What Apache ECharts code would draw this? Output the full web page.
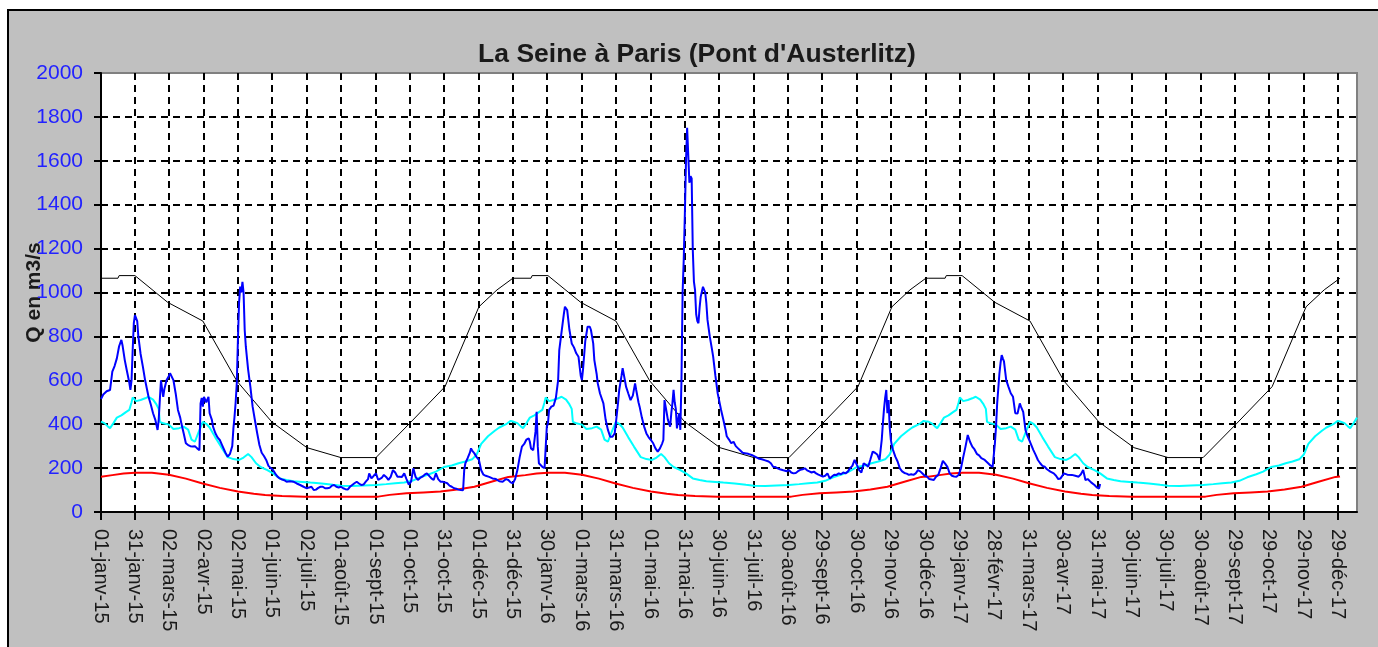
<!DOCTYPE html>
<html><head><meta charset="utf-8">
<script src="https://cdn.jsdelivr.net/npm/echarts@6/dist/echarts.min.js"></script>
<style>html,body{margin:0;padding:0;background:#fff}#c{width:1378px;height:647px}</style>
</head><body><div id="c"></div>
<script>
// ---------- DATA ----------
const startYear = 2015;           // categories start on 01-janv-15, one per day
const dayCount = 1111;            // 01-janv-15 .. 15-janv-18
const monthNames = ['janv','févr','mars','avr','mai','juin','juil','août','sept','oct','nov','déc'];
const tickLabels = ['01-janv-15','31-janv-15','02-mars-15','02-avr-15','02-mai-15','01-juin-15','02-juil-15','01-août-15','01-sept-15','01-oct-15','31-oct-15','01-déc-15','31-déc-15','30-janv-16','01-mars-16','31-mars-16','01-mai-16','31-mai-16','30-juin-16','31-juil-16','30-août-16','29-sept-16','30-oct-16','29-nov-16','30-déc-16','29-janv-17','28-févr-17','31-mars-17','30-avr-17','31-mai-17','30-juin-17','30-juil-17','30-août-17','29-sept-17','29-oct-17','29-nov-17','29-déc-17'];
const yMin = 0, yMax = 2000, yStep = 200;

// observed daily discharge [day index, Q m3/s]
const observed = [[0,515],[2,535],[5,550],[8,556],[10,640],[12,665],[14,700],[16,755],[18,784],[19,760],[21,692],[23,640],[25,590],[26,556],[27,600],[28,738],[29,860],[30,897],[31,905],[32,870],[33,800],[35,720],[37,662],[39,600],[42,525],[44,490],[46,450],[48,420],[50,374],[51,420],[52,512],[53,600],[54,560],[55,525],[56,560],[58,601],[60,620],[61,632],[62,625],[64,601],[66,540],[68,465],[70,430],[71,404],[73,360],[75,313],[77,305],[79,300],[81,298],[83,300],[85,290],[87,282],[88,495],[89,520],[90,480],[91,525],[93,500],[95,525],[96,450],[98,420],[99,389],[101,360],[103,340],[105,328],[107,305],[108,298],[110,270],[112,252],[114,265],[115,267],[116,300],[117,380],[118,434],[119,500],[120,586],[121,784],[122,951],[123,1027],[124,1000],[125,1049],[126,1000],[127,829],[128,753],[130,650],[132,571],[134,480],[136,419],[138,360],[140,305],[142,270],[144,255],[146,237],[148,210],[150,200],[152,191],[154,175],[156,161],[158,153],[160,148],[162,145],[164,138],[167,140],[170,138],[173,130],[176,123],[179,115],[182,108],[184,112],[186,115],[188,100],[190,102],[192,110],[194,115],[196,115],[198,108],[200,108],[202,110],[204,120],[206,123],[208,115],[210,112],[212,115],[214,108],[216,104],[218,102],[220,115],[222,123],[224,131],[226,138],[228,130],[230,123],[232,125],[234,138],[236,150],[237,176],[238,165],[239,153],[241,165],[242,169],[243,176],[245,146],[246,138],[248,155],[250,169],[252,160],[254,146],[256,160],[258,191],[260,180],[262,161],[264,161],[266,160],[268,176],[270,150],[272,125],[274,138],[276,199],[278,160],[280,146],[282,155],[284,161],[286,170],[288,176],[290,165],[292,153],[294,146],[296,176],[298,150],[300,138],[302,138],[304,135],[306,131],[308,120],[310,115],[312,108],[314,106],[316,102],[318,100],[320,99],[321,191],[322,222],[324,245],[326,270],[327,290],[328,280],[330,267],[332,250],[334,237],[336,190],[338,170],[340,165],[343,160],[346,153],[349,150],[352,140],[355,138],[358,150],[360,146],[362,135],[364,131],[366,150],[368,191],[370,250],[372,298],[374,310],[376,330],[378,336],[379,320],[380,290],[382,282],[384,366],[385,457],[386,300],[387,222],[388,214],[390,206],[392,200],[393,199],[394,389],[395,404],[396,465],[398,480],[400,485],[401,480],[402,520],[404,601],[405,738],[407,820],[409,900],[410,935],[411,935],[412,920],[414,829],[416,768],[418,750],[420,723],[422,707],[424,620],[425,601],[426,650],[428,780],[430,844],[432,844],[433,829],[435,768],[436,692],[438,630],[439,586],[441,540],[444,495],[446,420],[448,374],[450,343],[452,343],[454,358],[455,404],[457,500],[458,556],[460,620],[461,655],[463,600],[464,571],[466,540],[468,510],[470,530],[472,586],[473,556],[475,500],[476,480],[478,430],[480,389],[482,358],[484,340],[486,328],[488,313],[490,290],[492,275],[494,290],[496,313],[497,328],[498,510],[499,480],[500,450],[501,420],[502,404],[503,389],[504,450],[505,495],[506,556],[507,500],[508,470],[509,381],[510,420],[511,450],[512,374],[513,600],[514,1000],[515,1150],[516,1360],[517,1600],[518,1750],[519,1750],[520,1500],[521,1530],[522,1520],[523,1194],[524,1050],[525,1011],[526,900],[527,870],[528,860],[529,930],[530,981],[532,1026],[534,1000],[535,950],[536,875],[538,800],[540,740],[541,708],[543,620],[545,541],[547,490],[548,465],[550,420],[552,374],[553,345],[555,330],[557,313],[559,320],[561,300],[563,290],[565,280],[567,270],[569,268],[572,265],[575,260],[578,252],[581,244],[584,240],[587,235],[590,230],[592,222],[594,206],[596,205],[598,199],[600,195],[603,190],[606,186],[608,191],[610,180],[612,176],[614,178],[616,186],[618,192],[620,195],[622,199],[624,190],[626,185],[628,180],[630,184],[632,176],[634,170],[636,166],[638,161],[640,165],[642,176],[644,153],[646,162],[648,170],[650,169],[652,176],[654,172],[656,180],[658,176],[660,184],[662,200],[664,210],[666,237],[668,215],[670,191],[672,180],[674,222],[676,215],[678,206],[680,240],[682,275],[684,270],[686,262],[688,237],[690,330],[691,404],[692,470],[693,520],[694,556],[695,450],[696,510],[697,388],[698,330],[699,300],[700,282],[702,252],[704,230],[706,199],[708,185],[710,178],[712,175],[714,169],[716,172],[718,169],[720,176],[722,191],[724,185],[726,175],[728,165],[730,161],[732,150],[734,148],[736,146],[738,161],[740,169],[742,200],[744,233],[746,220],[748,206],[750,176],[752,165],[754,162],[756,161],[758,170],[760,199],[762,250],[764,298],[766,351],[768,320],[770,298],[772,285],[774,265],[776,258],[778,245],[781,237],[784,222],[786,212],[788,206],[790,313],[791,389],[792,495],[794,632],[795,680],[796,715],[797,700],[798,686],[800,601],[802,570],[804,541],[806,525],[808,450],[810,449],[812,495],[813,480],[815,456],[817,374],[819,343],[821,320],[824,282],[826,260],[828,237],[830,222],[832,210],[834,206],[836,195],[839,184],[842,176],[844,165],[846,150],[848,153],[851,176],[854,170],[858,169],[861,165],[864,161],[866,172],[868,191],[870,146],[872,150],[875,135],[878,123],[880,112],[882,107],[883,127]];

// yearly reference curves [day of year, Q], identical each year in the reference
const blackYear = [[0,1065],[15,1065],[16,1077],[30,1077],[59,955],[90,870],[120,597],[151,410],[182,293],[212,248],[243,248],[273,405],[304,571],[334,935],[350,1012],[364,1065]];
const redYear = [[0,161],[10,168],[20,175],[30,179],[45,179],[60,170],[75,152],[89,131],[105,110],[121,93],[135,83],[145,77],[160,73],[180,70],[245,70],[255,78],[270,85],[285,89],[300,93],[315,103],[330,115],[345,138],[360,160],[364,162]];
const cyanYear = [[0,412],[3,405],[6,390],[8,382],[11,405],[14,430],[18,440],[22,455],[25,465],[27,500],[28,522],[31,505],[35,510],[39,518],[42,525],[46,512],[49,490],[51,470],[52,411],[55,404],[60,398],[64,378],[69,382],[73,389],[77,375],[80,330],[83,320],[86,360],[90,411],[93,402],[96,385],[101,340],[106,298],[112,250],[117,241],[122,237],[126,248],[130,264],[133,250],[137,222],[141,205],[147,191],[152,176],[158,153],[164,146],[170,140],[178,137],[185,134],[195,130],[205,124],[212,120],[222,119],[232,121],[243,123],[252,127],[260,131],[268,134],[275,142],[282,158],[290,172],[296,184],[303,205],[310,212],[316,222],[322,230],[328,240],[332,262],[336,310],[342,345],[348,370],[352,385],[358,400],[362,415],[364,412]];
const yearOffsets = [0, 365, 731, 1096];   // day index of 1 January 2015..2018
const refEndDay = 1095;                    // black & red curves end at end of 2017

// ---------- BUILD ----------
const categories = [];
for (let i = 0; i < dayCount; i++) {
  const d = new Date(Date.UTC(startYear, 0, 1 + i));
  const dd = String(d.getUTCDate()).padStart(2, '0');
  const yy = String(d.getUTCFullYear() % 100).padStart(2, '0');
  categories.push(dd + '-' + monthNames[d.getUTCMonth()] + '-' + yy);
}
const tickSet = new Set(tickLabels);
const isTick = (i, v) => tickSet.has(v);
function spread(pattern, endDay) {
  const out = [];
  yearOffsets.forEach(off => pattern.forEach(p => {
    const d = off + p[0];
    if (d <= endDay) out.push([d, p[1]]);
  }));
  return out;
}
const FONT = '"Liberation Sans", Arial, sans-serif';
const chart = echarts.init(document.getElementById('c'), null, {renderer: 'canvas'});
chart.setOption({
  animation: false,
  backgroundColor: '#ffffff',
  graphic: [{
    type: 'rect', z: -100, silent: true,
    shape: {x: 8, y: 10, width: 1420, height: 700},
    style: {fill: '#c0c0c0', stroke: '#000', lineWidth: 2}
  }],
  title: {
    text: "La Seine à Paris (Pont d'Austerlitz)",
    left: 697, top: 41, textAlign: 'center', padding: 0,
    textStyle: {fontFamily: FONT, fontSize: 26.5, fontWeight: 'bold', color: '#1a1a1a'}
  },
  grid: {left: 101, right: 21, top: 73, bottom: 135, outerBoundsMode: 'none', containLabel: false, show: true, backgroundColor: '#fff', borderColor: '#808080', borderWidth: 2},
  xAxis: {
    type: 'category', data: categories, boundaryGap: false,
    axisLine: {lineStyle: {color: '#000', width: 2}},
    axisTick: {show: true, interval: isTick, length: 8, lineStyle: {color: '#000', width: 2}},
    axisLabel: {interval: isTick, rotate: -90, margin: 17, fontFamily: FONT, fontSize: 20, color: '#1a1a1a'},
    splitLine: {show: true, interval: isTick, lineStyle: {color: '#000', width: 2, type: [7, 5]}}
  },
  yAxis: {
    type: 'value', min: yMin, max: yMax, interval: yStep,
    name: 'Q en m3/s', nameLocation: 'middle', nameRotate: 90, nameGap: 56, nameMoveOverlap: false,
    nameTextStyle: {fontFamily: FONT, fontSize: 21, fontWeight: 'bold', color: '#1a1a1a'},
    axisLine: {show: true, lineStyle: {color: '#000', width: 2}},
    axisTick: {show: true, length: 7, lineStyle: {color: '#000', width: 2}},
    axisLabel: {margin: 18, fontFamily: FONT, fontSize: 21, color: '#2222ff', formatter: v => String(v)},
    splitLine: {show: true, showMinLine: false, showMaxLine: false, lineStyle: {color: '#000', width: 2, type: [7, 5]}}
  },
  series: [
    {name: 'black', type: 'line', data: spread(blackYear, refEndDay), showSymbol: false, lineStyle: {color: '#000', width: 1}, itemStyle: {color: '#000'}},
    {name: 'red', type: 'line', data: spread(redYear, refEndDay), showSymbol: false, lineStyle: {color: '#ff0000', width: 2}, itemStyle: {color: '#ff0000'}},
    {name: 'cyan', type: 'line', data: spread(cyanYear, dayCount - 1), showSymbol: false, lineStyle: {color: '#00ffff', width: 2}, itemStyle: {color: '#00ffff'}},
    {name: 'observed', type: 'line', data: observed, showSymbol: false, lineStyle: {color: '#0000ff', width: 2}, itemStyle: {color: '#0000ff'}}
  ]
});
</script></body></html>
